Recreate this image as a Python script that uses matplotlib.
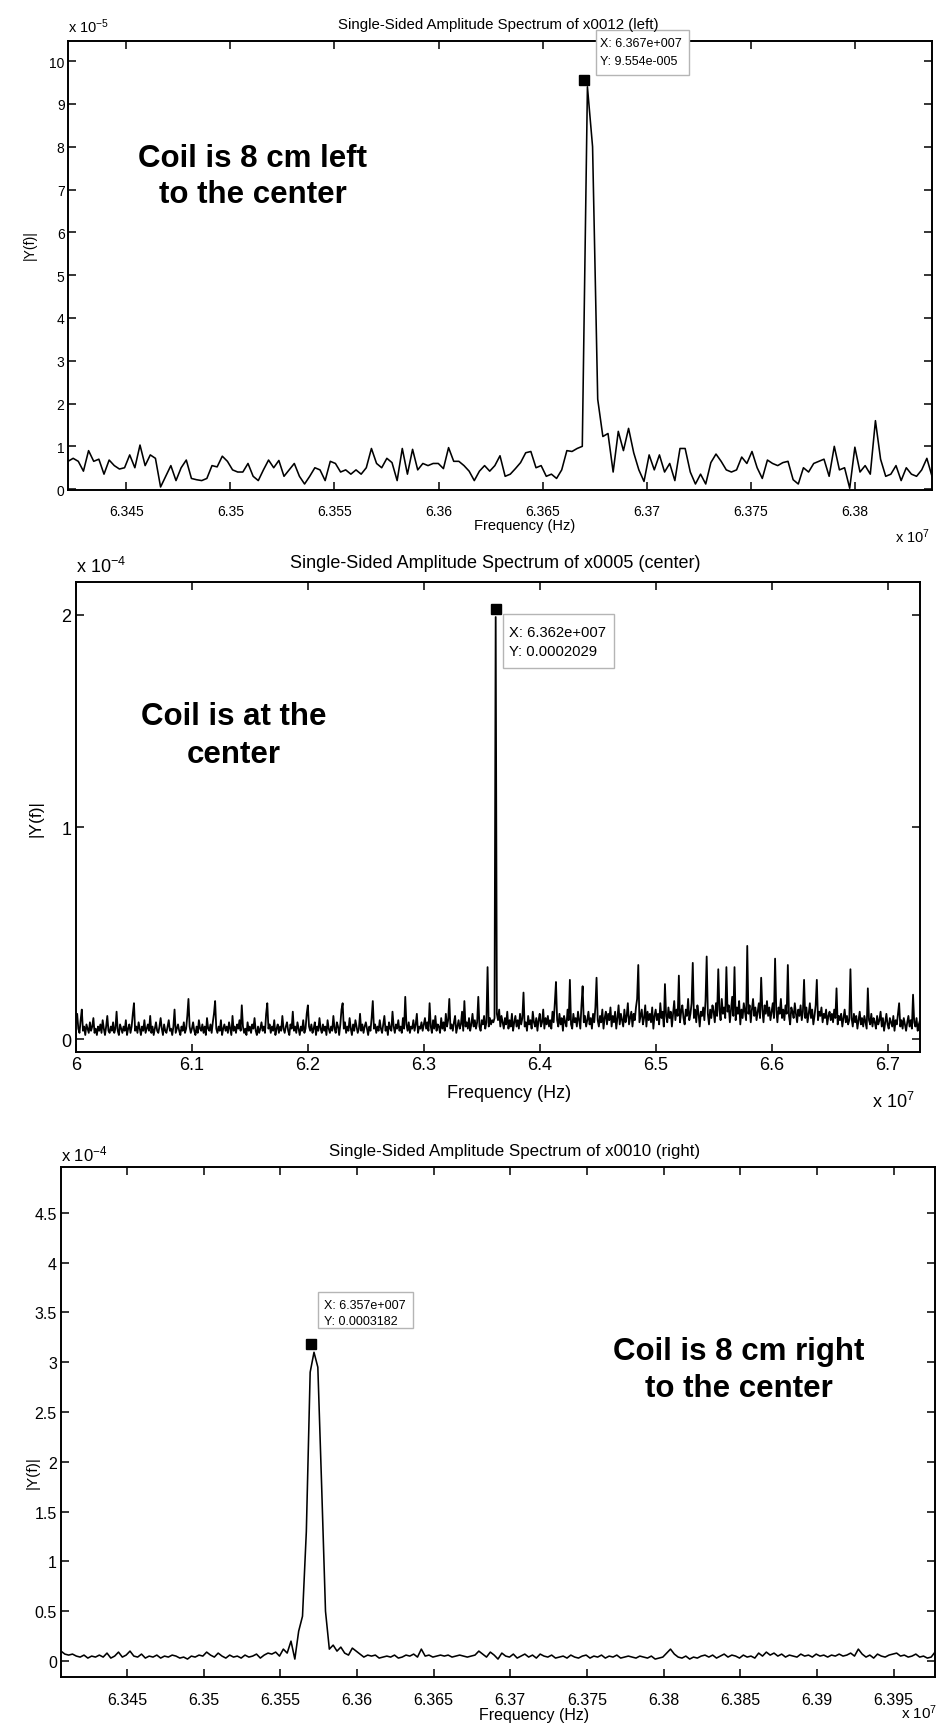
import numpy as np
import matplotlib
matplotlib.use("Agg")
import matplotlib.pyplot as plt
from matplotlib.patches import Rectangle

# ---------------- data ----------------
# Panel 1: x0012 (left), amplitude in units of 1e-5, frequency in units of 1e7 Hz
f1_start, f1_stop = 6.3422, 6.3837
amp1 = [0.65, 0.72, 0.65, 0.42, 0.9, 0.65, 0.7, 0.35, 0.68, 0.55,
        0.47, 0.5, 0.8, 0.5, 1.03, 0.55, 0.8, 0.72, 0.05, 0.3,
        0.55, 0.2, 0.5, 0.68, 0.25, 0.22, 0.2, 0.25, 0.55, 0.52,
        0.77, 0.65, 0.45, 0.4, 0.4, 0.6, 0.3, 0.2, 0.45, 0.68,
        0.5, 0.67, 0.3, 0.45, 0.6, 0.3, 0.12, 0.3, 0.5, 0.45,
        0.2, 0.65, 0.6, 0.4, 0.45, 0.35, 0.45, 0.35, 0.5, 0.95,
        0.6, 0.5, 0.72, 0.62, 0.2, 0.95, 0.35, 0.93, 0.45, 0.6,
        0.55, 0.6, 0.6, 0.48, 0.97, 0.65, 0.65, 0.55, 0.42, 0.2,
        0.42, 0.55, 0.42, 0.55, 0.78, 0.3, 0.35, 0.48, 0.62, 0.85,
        0.88, 0.5, 0.55, 0.3, 0.35, 0.25, 0.45, 0.9, 0.88, 0.95,
        1.0, 9.4, 8.0, 2.1, 1.23, 1.3, 0.4, 1.35, 0.9, 1.42,
        0.85, 0.45, 0.18, 0.8, 0.45, 0.8, 0.4, 0.6, 0.2, 0.95,
        0.95, 0.4, 0.12, 0.35, 0.12, 0.62, 0.82, 0.65, 0.45, 0.4,
        0.45, 0.75, 0.6, 0.88, 0.5, 0.25, 0.68, 0.6, 0.55, 0.62,
        0.65, 0.22, 0.12, 0.5, 0.4, 0.6, 0.65, 0.7, 0.3, 1.0,
        0.45, 0.5, 0.02, 0.98, 0.4, 0.55, 0.35, 1.6, 0.7, 0.3,
        0.35, 0.55, 0.2, 0.5, 0.35, 0.3, 0.45, 0.72, 0.3]
tip1_x, tip1_y = 6.367, 9.554          # data cursor (x1e7, x1e-5)
xticks1 = [6.345, 6.35, 6.355, 6.36, 6.365, 6.37, 6.375, 6.38]
yticks1 = [0, 1, 2, 3, 4, 5, 6, 7, 8, 9, 10]

# Panel 2: x0005 (center), amplitude in units of 1e-6, frequency in units of 1e7 Hz
f2_start, f2_stop = 6.000, 6.728
amp2_e6 = [8, 12, 5, 3, 9, 14, 4, 6, 2, 7,
           5, 3, 8, 4, 6, 10, 3, 5, 2, 6,
           4, 7, 3, 9, 5, 2, 6, 11, 4, 3,
           6, 4, 8, 3, 5, 13, 4, 2, 7, 5,
           3, 6, 4, 9, 2, 5, 7, 3, 6, 12,
           17, 4, 6, 3, 8, 5, 2, 6, 4, 9,
           3, 5, 7, 4, 11, 3, 6, 2, 5, 8,
           4, 3, 6, 10, 5, 2, 7, 4, 3, 6,
           9, 4, 5, 2, 6, 14, 3, 5, 7, 4,
           2, 6, 4, 8, 3, 5, 11, 19, 6, 3,
           5, 8, 4, 2, 6, 3, 9, 5, 4, 7,
           3, 6, 2, 10, 5, 4, 7, 3, 8, 12,
           18, 5, 3, 6, 4, 9, 2, 5, 7, 4,
           6, 3, 8, 5, 2, 11, 4, 6, 3, 7,
           5, 9, 4, 16, 6, 3, 5, 2, 8, 4,
           6, 3, 7, 5, 10, 4, 2, 6, 3, 5,
           8, 4, 6, 3, 12, 17, 5, 7, 3, 6,
           4, 9, 2, 5, 7, 3, 6, 4, 11, 5,
           3, 6, 8, 4, 2, 7, 5, 13, 4, 6,
           3, 8, 5, 2, 6, 4, 9, 3, 5, 12,
           16, 6, 4, 7, 3, 5, 8, 2, 6, 4,
           10, 5, 3, 7, 4, 6, 2, 9, 5, 3,
           6, 4, 11, 5, 3, 8, 6, 2, 7, 14,
           17, 5, 8, 3, 6, 4, 10, 5, 2, 7,
           4, 9, 6, 3, 5, 12, 4, 7, 3, 6,
           8, 5, 2, 6, 4, 10, 18, 5, 7, 3,
           6, 4, 9, 5, 3, 7, 11, 4, 6, 2,
           8, 5, 4, 13, 6, 3, 7, 5, 9, 4,
           6, 3, 10, 5, 20, 7, 4, 8, 3, 6,
           5, 9, 4, 7, 12, 3, 6, 5, 8, 4,
           7, 10, 5, 8, 4, 17, 6, 3, 9, 5,
           11, 4, 7, 6, 3, 10, 5, 8, 4, 12,
           6, 9, 19, 5, 7, 4, 8, 11, 3, 6,
           9, 5, 7, 13, 4, 18, 6, 8, 5, 10,
           4, 7, 12, 6, 9, 5, 8, 20, 6, 4,
           9, 7, 11, 5, 8, 34, 6, 10, 7, 9,
           8, 10, 199, 12, 9, 14, 6, 11, 8, 5,
           10, 7, 13, 5, 9, 6, 12, 4, 8, 11,
           6, 9, 5, 12, 7, 10, 22, 6, 8, 4,
           11, 7, 9, 5, 13, 8, 6, 10, 4, 9,
           12, 6, 8, 14, 5, 10, 7, 11, 6, 9,
           5, 13, 8, 17, 27, 9, 6, 12, 7, 10,
           4, 11, 8, 6, 14, 9, 28, 7, 5, 12,
           8, 10, 6, 13, 9, 5, 16, 25, 8, 11,
           6, 9, 13, 7, 10, 5, 12, 8, 15, 29,
           9, 6, 11, 8, 14, 5, 10, 13, 7, 12,
           9, 15, 6, 11, 8, 13, 5, 10, 16, 7,
           12, 9, 6, 14, 8, 11, 17, 7, 10, 13,
           6, 12, 9, 15, 19, 35, 8, 11, 14, 7,
           10, 16, 6, 13, 9, 12, 8, 15, 5, 11,
           14, 9, 12, 7, 17, 10, 13, 6, 26, 11,
           8, 15, 10, 13, 6, 12, 18, 9, 14, 11,
           30, 8, 13, 16, 10, 7, 14, 11, 19, 9,
           12, 17, 36, 10, 14, 8, 16, 12, 6, 13,
           11, 15, 9, 18, 39, 12, 7, 14, 10, 16,
           13, 8, 17, 11, 33, 14, 9, 19, 12, 15,
           10, 34, 13, 16, 8, 14, 20, 11, 34, 9,
           15, 12, 18, 7, 14, 10, 17, 13, 9, 44,
           12, 16, 8, 14, 19, 11, 15, 9, 13, 17,
           10, 29, 14, 8, 16, 12, 18, 11, 15, 9,
           13, 17, 10, 38, 14, 8, 15, 12, 19, 10,
           14, 9, 16, 12, 35, 11, 7, 15, 13, 10,
           17, 12, 8, 14, 11, 16, 9, 13, 28, 10,
           15, 8, 12, 17, 10, 14, 7, 11, 16, 28,
           9, 13, 11, 15, 8, 12, 10, 14, 7, 11,
           13, 9, 12, 8, 14, 10, 24, 7, 11, 9,
           12, 6, 10, 14, 8, 11, 7, 9, 33, 10,
           6, 12, 8, 11, 5, 9, 13, 7, 10, 6,
           11, 8, 5, 24, 9, 7, 12, 6, 10, 8,
           5, 11, 7, 9, 13, 6, 10, 4, 8, 12,
           7, 5, 10, 8, 6, 11, 4, 9, 7, 12,
           17, 6, 9, 5, 10, 7, 4, 8, 11, 6,
           9, 5, 21, 8, 6, 10, 4, 7, 9]
tip2_x, tip2_y = 6.362, 2.029          # data cursor (x1e7, x1e-4)
xticks2 = [6.0, 6.1, 6.2, 6.3, 6.4, 6.5, 6.6, 6.7]
yticks2 = [0, 1, 2]

# Panel 3: x0010 (right), amplitude in units of 1e-4, frequency in units of 1e7 Hz
f3_start, f3_stop = 6.3407, 6.3977
amp3 = [0.10, 0.07, 0.06, 0.07, 0.05, 0.04, 0.06, 0.03, 0.05, 0.04,
        0.06, 0.04, 0.08, 0.03, 0.05, 0.09, 0.04, 0.06, 0.10, 0.05,
        0.04, 0.07, 0.03, 0.05, 0.04, 0.06, 0.03, 0.05, 0.04, 0.06,
        0.05, 0.03, 0.04, 0.02, 0.05, 0.04, 0.06, 0.05, 0.09, 0.06,
        0.04, 0.08, 0.05, 0.03, 0.06, 0.04, 0.05, 0.03, 0.06, 0.04,
        0.05, 0.07, 0.03, 0.06, 0.08, 0.07, 0.09, 0.05, 0.12, 0.08,
        0.20, 0.02, 0.30, 0.45, 1.3, 2.9, 3.10, 2.95, 1.75, 0.5,
        0.12, 0.16, 0.10, 0.14, 0.08, 0.06, 0.13, 0.10, 0.07, 0.04,
        0.06, 0.05, 0.06, 0.03, 0.04, 0.05, 0.04, 0.06, 0.03, 0.04,
        0.06, 0.05, 0.07, 0.04, 0.12, 0.05, 0.06, 0.04, 0.05, 0.06,
        0.05, 0.06, 0.04, 0.05, 0.06, 0.05, 0.04, 0.05, 0.06, 0.10,
        0.07, 0.04, 0.09, 0.06, 0.02, 0.08, 0.05, 0.04, 0.07, 0.03,
        0.05, 0.07, 0.04, 0.06, 0.03, 0.07, 0.05, 0.04, 0.06, 0.03,
        0.04, 0.05, 0.03, 0.06, 0.04, 0.03, 0.05, 0.06, 0.03, 0.05,
        0.04, 0.06, 0.03, 0.05, 0.04, 0.06, 0.03, 0.04, 0.05, 0.04,
        0.03, 0.05, 0.04, 0.03, 0.05, 0.02, 0.03, 0.04, 0.08, 0.12,
        0.07, 0.04, 0.03, 0.05, 0.02, 0.04, 0.03, 0.05, 0.06, 0.04,
        0.06, 0.03, 0.05, 0.07, 0.04, 0.06, 0.05, 0.03, 0.06, 0.04,
        0.05, 0.03, 0.08, 0.05, 0.09, 0.06, 0.08, 0.05, 0.07, 0.04,
        0.06, 0.05, 0.04, 0.07, 0.05, 0.06, 0.04, 0.07, 0.05, 0.06,
        0.04, 0.06, 0.05, 0.07, 0.05, 0.06, 0.08, 0.05, 0.12, 0.07,
        0.04, 0.06, 0.03, 0.07, 0.05, 0.04, 0.06, 0.07, 0.08, 0.05,
        0.06, 0.04, 0.05, 0.07, 0.04, 0.05, 0.03, 0.04, 0.09]
tip3_x, tip3_y = 6.357, 3.182          # data cursor (x1e7, x1e-4)
xticks3 = [6.345, 6.35, 6.355, 6.36, 6.365, 6.37, 6.375, 6.38, 6.385, 6.39, 6.395]
yticks3 = [0, 0.5, 1, 1.5, 2, 2.5, 3, 3.5, 4, 4.5]

titles = ["Single-Sided Amplitude Spectrum of x0012 (left)",
          "Single-Sided Amplitude Spectrum of x0005 (center)",
          "Single-Sided Amplitude Spectrum of x0010 (right)"]
notes = [("Coil is 8 cm left", "to the center"),
         ("Coil is at the", "center"),
         ("Coil is 8 cm right", "to the center")]
tips = [("X: 6.367e+007", "Y: 9.554e-005"),
        ("X: 6.362e+007", "Y: 0.0002029"),
        ("X: 6.357e+007", "Y: 0.0003182")]

# ---------------- figure ----------------
FONT = ["Liberation Sans", "DejaVu Sans"]
plt.rcParams["font.family"] = FONT
plt.rcParams["mathtext.fontset"] = "custom"
plt.rcParams["mathtext.rm"] = "Liberation Sans"
plt.rcParams["mathtext.it"] = "Liberation Sans:italic"

W, H = 941, 1724
fig = plt.figure(figsize=(W / 100, H / 100), dpi=100)
fig.patch.set_facecolor("white")


def ax_at(l, r, t, b):
    return fig.add_axes([l / W, 1 - b / H, (r - l) / W, (b - t) / H])


def ftext(x, y, s, **kw):
    return fig.text(x / W, 1 - y / H, s, **kw)


def box(l, t, r, b):
    fig.add_artist(Rectangle((l / W, 1 - b / H), (r - l) / W, (b - t) / H,
                             transform=fig.transFigure, facecolor="white",
                             edgecolor="#b5b5b5", lw=1.0, zorder=5))


def style(ax, xt, yt, xlim, ylim, fs, xpad, ypad):
    ax.set_xlim(*xlim)
    ax.set_ylim(*ylim)
    ax.set_xticks(xt)
    ax.set_xticklabels(["%g" % v for v in xt])
    ax.set_yticks(yt)
    ax.set_yticklabels(["%g" % v for v in yt])
    ax.tick_params(direction="in", top=True, right=True, length=6, width=1.1,
                   labelsize=fs, colors="black")
    ax.tick_params(axis="x", pad=xpad)
    ax.tick_params(axis="y", pad=ypad)
    for sp in ax.spines.values():
        sp.set_linewidth(1.4)
        sp.set_color("black")


# ---- panel 1 ----
fr1 = np.linspace(f1_start, f1_stop, len(amp1))
ax1 = ax_at(68, 932, 42, 491)
ax1.plot(fr1, amp1, color="black", lw=1.15)
ax1.plot([tip1_x], [tip1_y], "s", color="black", ms=6.5, zorder=6)
style(ax1, xticks1, yticks1, (f1_start, f1_stop), (-0.02, 10.47), 10, 10, 2.5)
ftext(498, 25, titles[0], ha="center", va="center", fontsize=10.8, zorder=8)
ftext(68, 27, r"x 10$^{-5}$", ha="left", va="center", fontsize=10.5)
ftext(30, 245, "|Y(f)|", ha="center", va="center", rotation=90, fontsize=10)
ftext(525, 526, "Frequency (Hz)", ha="center", va="center", fontsize=10.5)
ftext(913, 537, r"x 10$^{7}$", ha="center", va="center", fontsize=10.5)
ftext(253, 159, notes[0][0], ha="center", va="center", fontsize=22.5, fontweight="bold")
ftext(253, 195, notes[0][1], ha="center", va="center", fontsize=22.5, fontweight="bold")
box(596, 31, 689, 76)
ftext(600, 44, tips[0][0], ha="left", va="center", fontsize=9, zorder=7)
ftext(600, 62, tips[0][1], ha="left", va="center", fontsize=9, zorder=7)

# ---- panel 2 ----
fr2 = np.linspace(f2_start, f2_stop, len(amp2_e6))
amp2 = np.array(amp2_e6) / 100.0
ax2 = ax_at(76, 920, 583, 1053)
ax2.plot(fr2, amp2, color="black", lw=1.3)
ax2.plot([tip2_x], [tip2_y], "s", color="black", ms=7.5, zorder=6)
style(ax2, xticks2, yticks2, (f2_start, f2_stop), (-0.06, 2.155), 13, 3, 3.5)
ftext(495, 564, titles[1], ha="center", va="center", fontsize=13)
ftext(76, 567, r"x 10$^{-4}$", ha="left", va="center", fontsize=13)
ftext(36, 819, "|Y(f)|", ha="center", va="center", rotation=90, fontsize=12.5)
ftext(509, 1094, "Frequency (Hz)", ha="center", va="center", fontsize=13)
ftext(893, 1102, r"x 10$^{7}$", ha="center", va="center", fontsize=13)
ftext(234, 717, notes[1][0], ha="center", va="center", fontsize=22.5, fontweight="bold")
ftext(234, 755, notes[1][1], ha="center", va="center", fontsize=22.5, fontweight="bold")
box(503, 615, 614, 669)
ftext(509, 633, tips[1][0], ha="left", va="center", fontsize=10.6, zorder=7)
ftext(509, 652, tips[1][1], ha="left", va="center", fontsize=10.6, zorder=7)

# ---- panel 3 ----
fr3 = np.linspace(f3_start, f3_stop, len(amp3))
ax3 = ax_at(61, 935, 1168, 1678)
ax3.plot(fr3, amp3, color="black", lw=1.15)
ax3.plot([tip3_x], [tip3_y], "s", color="black", ms=7, zorder=6)
style(ax3, xticks3, yticks3, (f3_start, f3_stop), (-0.16, 4.96), 11.5, 11, 3)
ftext(515, 1152, titles[2], ha="center", va="center", fontsize=12.2)
ftext(61, 1154, r"x 10$^{-4}$", ha="left", va="center", fontsize=12)
ftext(33, 1473, "|Y(f)|", ha="center", va="center", rotation=90, fontsize=11)
ftext(534, 1716, "Frequency (Hz)", ha="center", va="center", fontsize=11.5)
ftext(919, 1713, r"x 10$^{7}$", ha="center", va="center", fontsize=11)
ftext(739, 1352, notes[2][0], ha="center", va="center", fontsize=22.5, fontweight="bold")
ftext(739, 1389, notes[2][1], ha="center", va="center", fontsize=22.5, fontweight="bold")
box(318, 1293, 413, 1329)
ftext(324, 1306, tips[2][0], ha="left", va="center", fontsize=9, zorder=7)
ftext(324, 1322, tips[2][1], ha="left", va="center", fontsize=9, zorder=7)

fig.savefig("out.png", dpi=100, facecolor="white")
